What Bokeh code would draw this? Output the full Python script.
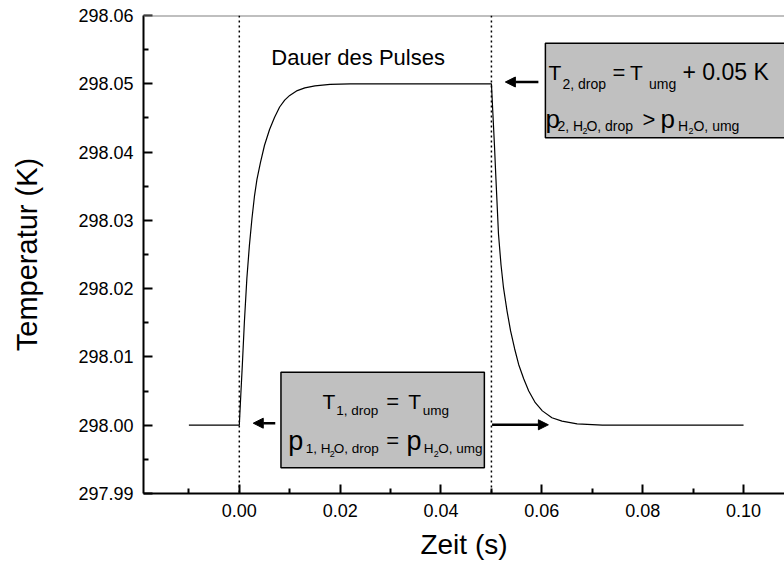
from bokeh.plotting import figure
from bokeh.models import (FixedTicker, PrintfTickFormatter, Span, BoxAnnotation,
                          Label, Arrow, NormalHead)
from bokeh.embed import file_html
from bokeh.resources import INLINE

# ---------------- data ----------------
zeit = [-0.0100, 0.0000, 0.0003, 0.0006, 0.0010, 0.0015, 0.0020, 0.0025, 0.0030,
        0.0035, 0.0042, 0.0050, 0.0060, 0.0070, 0.0080, 0.0090, 0.0100, 0.0115,
        0.0130, 0.0150, 0.0180, 0.0220, 0.0500, 0.0503, 0.0506, 0.0509, 0.0514,
        0.0519, 0.0524, 0.0531, 0.0538, 0.0546, 0.0554, 0.0564, 0.0574, 0.0587,
        0.0601, 0.0620, 0.0640, 0.0670, 0.0720, 0.1000]
temperatur = [298.0000, 298.0000, 298.0045, 298.0088, 298.0150, 298.0215, 298.0263,
              298.0302, 298.0335, 298.0360, 298.0385, 298.0410, 298.0433, 298.0451,
              298.0466, 298.0476, 298.0483, 298.0490, 298.0494, 298.0497, 298.0499,
              298.0500, 298.0500, 298.0455, 298.0410, 298.0360, 298.0280, 298.0235,
              298.0201, 298.0167, 298.0138, 298.0112, 298.0089, 298.0068, 298.0050,
              298.0033, 298.0021, 298.0011, 298.0006, 298.0002, 298.0000, 298.0000]
puls_start, puls_ende = 0.00, 0.05

x_major = [0.00, 0.02, 0.04, 0.06, 0.08, 0.10]
x_minor = [-0.01, 0.01, 0.03, 0.05, 0.07, 0.09]
y_major = [297.99, 298.00, 298.01, 298.02, 298.03, 298.04, 298.05, 298.06]
y_minor = [297.995, 298.005, 298.015, 298.025, 298.035, 298.045, 298.055]

# ---------------- layout ----------------
W, H = 784, 569
FL, FT, FB = 143.3, 15, 493          # frame left / top / bottom in pixels
X0, X1 = -0.019, -0.019 + (W - FL) / 5040.0
Y0, Y1 = 297.99, 298.06

def X(px):
    return X0 + (px - FL) * (X1 - X0) / (W - FL)

def Y(py):
    return Y1 - (py - FT) * (Y1 - Y0) / (FB - FT)

FONT = "Liberation Sans"

p = figure(width=W, height=H, x_range=(X0, X1), y_range=(Y0, Y1),
           output_backend="svg", toolbar_location=None,
           min_border_left=int(round(FL)), min_border_right=0,
           min_border_top=FT, min_border_bottom=H - FB)
p.xgrid.visible = False
p.ygrid.visible = False
p.outline_line_color = None
p.background_fill_color = "white"
p.border_fill_color = "white"

p.xaxis.ticker = FixedTicker(ticks=x_major, minor_ticks=x_minor)
p.yaxis.ticker = FixedTicker(ticks=y_major, minor_ticks=y_minor)
p.xaxis.formatter = PrintfTickFormatter(format="%.2f")
p.yaxis.formatter = PrintfTickFormatter(format="%.2f")

for ax in (p.xaxis[0], p.yaxis[0]):
    ax.axis_line_width = 2
    ax.axis_line_color = "black"
    ax.major_tick_in = 9
    ax.major_tick_out = 0
    ax.minor_tick_in = 5
    ax.minor_tick_out = 0
    ax.major_tick_line_width = 2
    ax.minor_tick_line_width = 2
    ax.major_tick_line_color = "black"
    ax.minor_tick_line_color = "black"
    ax.major_label_text_font = FONT
    ax.major_label_text_font_size = "18px"
    ax.major_label_text_color = "black"
    ax.major_label_standoff = 10
    ax.axis_label_text_font = FONT
    ax.axis_label_text_font_style = "normal"
    ax.axis_label_text_color = "black"

p.xaxis.axis_label = "Zeit (s)"
p.xaxis.axis_label_text_font_size = "28px"
p.xaxis.axis_label_standoff = 9

p.yaxis.axis_label = "Temperatur (K)"
p.yaxis.axis_label_text_font_size = "29px"
p.yaxis.axis_label_standoff = 32

# top frame line
p.add_layout(Span(location=Y1, dimension="width", line_color="#808080", line_width=2))

# pulse boundaries
for loc in (puls_start, puls_ende):
    p.add_layout(Span(location=loc, dimension="height", line_color="black",
                      line_width=1.5, line_dash="2 3"))

p.line(zeit, temperatur, line_color="black", line_width=1.2)

# annotation boxes
p.add_layout(BoxAnnotation(left=X(545), right=X(800), top=Y(42.7), bottom=Y(137.3),
                           fill_color="#c0c0c0", fill_alpha=1.0,
                           line_color="black", line_width=1.5, line_alpha=1.0))
p.add_layout(BoxAnnotation(left=X(280.7), right=X(484), top=Y(371.7), bottom=Y(467.3),
                           fill_color="#c0c0c0", fill_alpha=1.0,
                           line_color="black", line_width=1.5, line_alpha=1.0))

# arrows
def arrow(x_from, x_to, py):
    p.add_layout(Arrow(end=NormalHead(size=10, fill_color="black", line_color="black",
                                      line_width=1),
                       x_start=X(x_from), y_start=Y(py), x_end=X(x_to), y_end=Y(py),
                       line_color="black", line_width=2.5))

arrow(538, 505, 81.5)
arrow(275, 253, 422.7)
arrow(491.7, 548, 424.3)

# texts: (left px, baseline px, text, size px)
texts = [
    (271.0, 57.0, "Dauer des Pulses", 22),
    # box 2 line 1
    (548.0, 71.7, "T", 21), (562.0, 83.3, "2, drop", 14), (612.0, 71.7, "=", 22),
    (629.5, 71.7, "T", 21), (648.5, 83.3, "umg", 14), (682.0, 71.7, "+ 0.05 K", 23),
    # box 2 line 2
    (545.0, 118.5, "p", 26), (557.0, 125.0, "2, H", 14), (582.0, 130.0, "2", 9),
    (586.0, 125.0, "O, drop", 14), (642.0, 118.5, ">", 22), (660.0, 118.5, "p", 26),
    (677.5, 125.0, "H", 14), (688.0, 130.0, "2", 9), (693.0, 125.0, "O, umg", 14),
    # box 1 line 1
    (322.2, 400.5, "T", 21), (336.0, 409.5, "1, drop", 13.5), (386.0, 400.5, "=", 22),
    (408.0, 400.5, "T", 21), (422.3, 409.5, "umg", 13.5),
    # box 1 line 2
    (288.0, 440.0, "p", 27), (305.5, 448.0, "1, H", 13.5), (329.5, 453.5, "2", 9),
    (333.5, 448.0, "O, drop", 13.5), (386.0, 440.0, "=", 22), (406.3, 440.0, "p", 27),
    (423.5, 448.0, "H", 13.5), (433.5, 453.5, "2", 9), (438.0, 448.0, "O, umg", 13.5),
]
for px, py, txt, size in texts:
    p.add_layout(Label(x=X(px), y=Y(py), text=txt, text_font=FONT,
                       text_font_size=f"{size}px", text_color="black",
                       text_align="left", text_baseline="alphabetic"))

open("out.html", "w").write(file_html(p, INLINE))
